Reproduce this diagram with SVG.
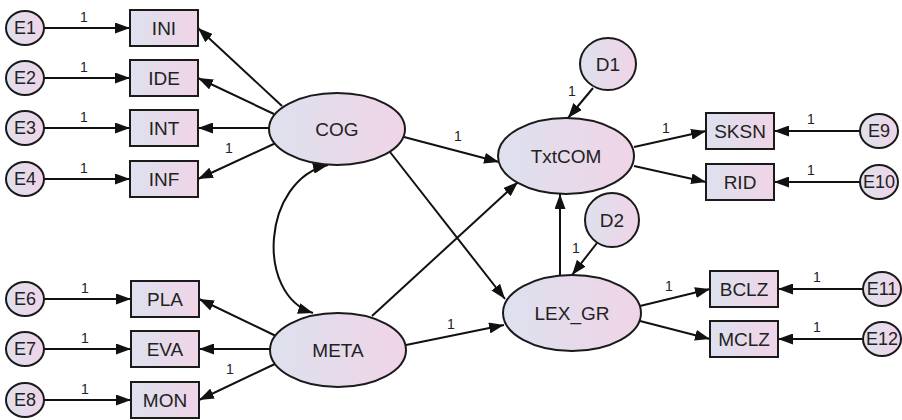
<svg xmlns="http://www.w3.org/2000/svg" width="902" height="420" viewBox="0 0 902 420">
<defs>
<linearGradient id="g" x1="0" y1="0" x2="1" y2="0">
<stop offset="0" stop-color="#dde1ee"/>
<stop offset="1" stop-color="#f0d4e7"/>
</linearGradient>
<marker id="ah" viewBox="0 0 15 11" refX="15" refY="5.5" markerWidth="15" markerHeight="11" markerUnits="userSpaceOnUse" orient="auto-start-reverse">
<path d="M0,0 L15,5.5 L0,11 Z" fill="#111"/>
</marker>
</defs>
<style>
.n{fill:url(#g);stroke:#1a1a1a;stroke-width:2}
.t{font-family:"Liberation Sans",Arial,sans-serif;font-size:19px;fill:#222;text-anchor:middle;dominant-baseline:central}
.te{font-family:"Liberation Sans",Arial,sans-serif;font-size:18px;fill:#222;text-anchor:middle;dominant-baseline:central}
.l{font-family:"Liberation Sans",Arial,sans-serif;font-size:14px;fill:#222;text-anchor:middle}
#edges line,#edges path{stroke:#111;stroke-width:2;fill:none;marker-end:url(#ah)}
</style>
<rect width="902" height="420" fill="#fff"/>
<g id="edges">
<line x1="44" y1="28" x2="130" y2="28"/>
<line x1="44" y1="78" x2="130" y2="78"/>
<line x1="44" y1="128" x2="130" y2="128"/>
<line x1="44" y1="179" x2="130" y2="179"/>
<line x1="44" y1="299" x2="131" y2="299"/>
<line x1="44" y1="349" x2="131" y2="349"/>
<line x1="44" y1="400" x2="131" y2="400"/>
<line x1="282" y1="106" x2="198" y2="28"/>
<line x1="274" y1="114" x2="198" y2="78"/>
<line x1="269" y1="128" x2="198" y2="128"/>
<line x1="278" y1="142" x2="198" y2="179"/>
<line x1="276" y1="336" x2="199" y2="299"/>
<line x1="270" y1="349" x2="199" y2="349"/>
<line x1="277" y1="363" x2="199" y2="400"/>
<line x1="404" y1="137" x2="499" y2="162"/>
<line x1="390" y1="152" x2="505" y2="299"/>
<line x1="372" y1="316" x2="518" y2="182"/>
<line x1="406" y1="345" x2="504" y2="325"/>
<line x1="560" y1="276" x2="560" y2="194"/>
<line x1="593" y1="88" x2="568" y2="118"/>
<line x1="597" y1="243" x2="572" y2="275"/>
<line x1="634" y1="147" x2="706" y2="131"/>
<line x1="634" y1="166" x2="706" y2="182"/>
<line x1="640" y1="306" x2="710" y2="289"/>
<line x1="640" y1="321" x2="710" y2="339"/>
<line x1="860" y1="131" x2="774" y2="131"/>
<line x1="860" y1="182" x2="774" y2="182"/>
<line x1="863" y1="289" x2="778" y2="289"/>
<line x1="863" y1="339" x2="778" y2="339"/>
<path d="M328,165 C262,180 255,295 313,313" marker-start="url(#ah)"/>
</g>
<g id="labels">
<text class="l" x="84" y="22">1</text>
<text class="l" x="84" y="72">1</text>
<text class="l" x="84" y="122">1</text>
<text class="l" x="84" y="173">1</text>
<text class="l" x="85" y="293">1</text>
<text class="l" x="85" y="343">1</text>
<text class="l" x="85" y="394">1</text>
<text class="l" x="229" y="153">1</text>
<text class="l" x="230" y="374">1</text>
<text class="l" x="458" y="141">1</text>
<text class="l" x="451" y="329">1</text>
<text class="l" x="572" y="96">1</text>
<text class="l" x="576" y="253">1</text>
<text class="l" x="666" y="133">1</text>
<text class="l" x="669" y="291">1</text>
<text class="l" x="811" y="124">1</text>
<text class="l" x="811" y="175">1</text>
<text class="l" x="817" y="282">1</text>
<text class="l" x="817" y="332">1</text>
</g>
<g id="E1"><ellipse class="n" cx="25" cy="28" rx="19" ry="17"/><text class="te" x="25" y="28">E1</text></g>
<g id="E2"><ellipse class="n" cx="25" cy="78" rx="19" ry="17"/><text class="te" x="25" y="78">E2</text></g>
<g id="E3"><ellipse class="n" cx="25" cy="128" rx="19" ry="17"/><text class="te" x="25" y="128">E3</text></g>
<g id="E4"><ellipse class="n" cx="25" cy="179" rx="19" ry="17"/><text class="te" x="25" y="179">E4</text></g>
<g id="E6"><ellipse class="n" cx="25" cy="299" rx="19" ry="17"/><text class="te" x="25" y="299">E6</text></g>
<g id="E7"><ellipse class="n" cx="25" cy="349" rx="19" ry="17"/><text class="te" x="25" y="349">E7</text></g>
<g id="E8"><ellipse class="n" cx="25" cy="400" rx="19" ry="17"/><text class="te" x="25" y="400">E8</text></g>
<g id="INI"><rect class="n" x="130" y="10" width="68" height="36"/><text class="t" x="164" y="28">INI</text></g>
<g id="IDE"><rect class="n" x="130" y="60" width="68" height="36"/><text class="t" x="164" y="78">IDE</text></g>
<g id="INT"><rect class="n" x="130" y="110" width="68" height="36"/><text class="t" x="164" y="128">INT</text></g>
<g id="INF"><rect class="n" x="130" y="161" width="68" height="36"/><text class="t" x="164" y="179">INF</text></g>
<g id="PLA"><rect class="n" x="131" y="281" width="68" height="36"/><text class="t" x="165" y="299">PLA</text></g>
<g id="EVA"><rect class="n" x="131" y="331" width="68" height="36"/><text class="t" x="165" y="349">EVA</text></g>
<g id="MON"><rect class="n" x="131" y="382" width="68" height="36"/><text class="t" x="165" y="400">MON</text></g>
<g id="COG"><ellipse class="n" cx="337" cy="129" rx="68" ry="36"/><text class="t" x="337" y="129">COG</text></g>
<g id="META"><ellipse class="n" cx="338" cy="350" rx="68" ry="37"/><text class="t" x="338" y="350">META</text></g>
<g id="TxtCOM"><ellipse class="n" cx="566" cy="156" rx="68" ry="38"/><text class="t" x="566" y="156">TxtCOM</text></g>
<g id="LEX_GR"><ellipse class="n" cx="572" cy="313" rx="69" ry="38"/><text class="t" x="572" y="313">LEX_GR</text></g>
<g id="D1"><ellipse class="n" cx="608" cy="64" rx="28" ry="26"/><text class="t" x="608" y="64">D1</text></g>
<g id="D2"><ellipse class="n" cx="612" cy="220" rx="27" ry="27"/><text class="t" x="612" y="220">D2</text></g>
<g id="SKSN"><rect class="n" x="706" y="113" width="68" height="36"/><text class="t" x="740" y="131">SKSN</text></g>
<g id="RID"><rect class="n" x="706" y="164" width="68" height="36"/><text class="t" x="740" y="182">RID</text></g>
<g id="BCLZ"><rect class="n" x="710" y="271" width="68" height="36"/><text class="t" x="744" y="289">BCLZ</text></g>
<g id="MCLZ"><rect class="n" x="710" y="321" width="68" height="36"/><text class="t" x="744" y="339">MCLZ</text></g>
<g id="E9"><ellipse class="n" cx="879" cy="131" rx="19" ry="17"/><text class="te" x="879" y="131">E9</text></g>
<g id="E10"><ellipse class="n" cx="879" cy="182" rx="19" ry="17"/><text class="te" x="879" y="182">E10</text></g>
<g id="E11"><ellipse class="n" cx="882" cy="289" rx="19" ry="17"/><text class="te" x="882" y="289">E11</text></g>
<g id="E12"><ellipse class="n" cx="882" cy="339" rx="19" ry="17"/><text class="te" x="882" y="339">E12</text></g>
</svg>
